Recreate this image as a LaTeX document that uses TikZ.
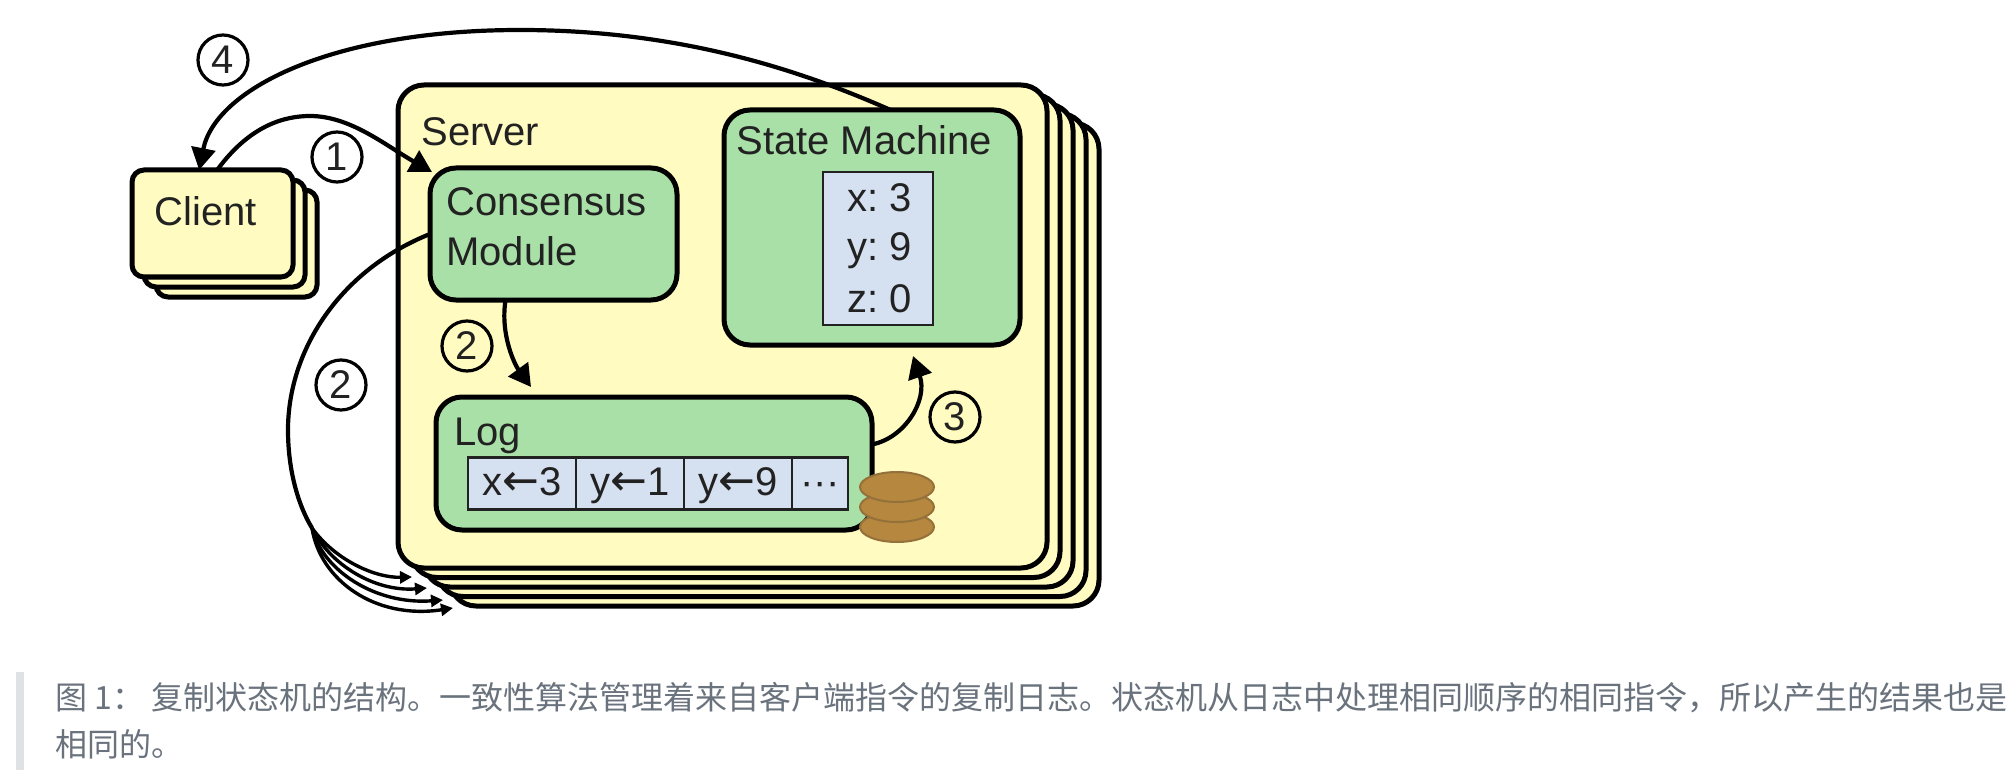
\documentclass[tikz,border=0pt]{standalone}
\usepackage{fontspec}
\setmainfont{Liberation Sans}
\newfontfamily\cjkfont{Noto Sans CJK SC}
\newfontfamily\arrowfont{DejaVu Sans}
\newcommand{\larr}{{\arrowfont\fontsize{22}{22}\selectfont ←}}
\usetikzlibrary{arrows.meta,shapes.geometric}
\definecolor{boxyellow}{HTML}{FFFBC1}
\definecolor{boxgreen}{HTML}{A9E0A7}
\definecolor{cellblue}{HTML}{D5E0F0}
\definecolor{diskbrown}{HTML}{B5873F}
\definecolor{diskedge}{HTML}{94713A}
\definecolor{captiongray}{HTML}{6A737D}
\definecolor{bargray}{HTML}{DFE2E5}
\definecolor{inkblack}{HTML}{222222}
\tikzset{
  box/.style={draw=black,line width=2.5pt,rounded corners=#1,inner sep=0pt,outer sep=0pt},
  box/.default=12pt,
  cell/.style={draw=inkblack,line width=1.3pt,fill=cellblue,inner sep=0pt,outer sep=0pt},
  lbl/.style={font=\fontsize{20}{22}\selectfont,text=inkblack,anchor=base west,inner sep=0pt},
  celltxt/.style={font=\fontsize{20}{22}\selectfont,text=inkblack,anchor=base,inner sep=0pt},
  num/.style={draw=black,circle,line width=1.6pt,minimum size=25pt,inner sep=0pt,font=\fontsize{20}{22}\selectfont,text=inkblack},
  flow/.style={draw=black,line width=2.1pt,-{Triangle[length=11pt,width=12pt]}},
  fine/.style={draw=black,line width=1.7pt,-{Triangle[length=6pt,width=6pt]}},
  disk/.style={ellipse,draw=diskedge,line width=1pt,fill=diskbrown,minimum width=37pt,minimum height=15pt,inner sep=0pt},
  caption/.style={font=\cjkfont\fontsize{16}{20}\selectfont,text=captiongray,anchor=base west,inner sep=0pt}
}
\begin{document}
\begin{tikzpicture}[x=0.5pt,y=-0.5pt]
\useasboundingbox[fill=white] (0,0) rectangle (2012,770);
% client stack
\foreach \i in {2,1}{
  \node[box=6pt,fill=boxyellow,minimum width=80.5pt,minimum height=53.5pt] (client\i) at (212.5+12*\i,223.5+10*\i) {};
}
\node[box=6pt,fill=boxyellow,minimum width=80.5pt,minimum height=53.5pt] (client) at (212.5,223.5) {};
\node[lbl] (clienttxt) at (154,225.5) {Client};
% server stack
\foreach \i in {4,3,2,1}{
  \node[box=13pt,fill=boxyellow,minimum width=324.5pt,minimum height=241.5pt] (server\i) at (722.5+13*\i,326.5+9.5*\i) {};
}
\node[box=13pt,fill=boxyellow,minimum width=324.5pt,minimum height=241.5pt] (server) at (722.5,326.5) {};
\node[lbl] (servertxt) at (421,145.5) {Server};
% consensus module
\node[box=13pt,fill=boxgreen,minimum width=123.5pt,minimum height=66pt] (cons) at (553.5,234) {};
\node[lbl] (constxt) at (446,215.5) {Consensus};
\node[lbl] (modtxt) at (446,265) {Module};
% state machine
\node[box=13pt,fill=boxgreen,minimum width=148pt,minimum height=117.5pt] (sm) at (872,227.5) {};
\node[lbl] (smtxt) at (736,154.5) {State Machine};
\node[cell,minimum width=55pt,minimum height=76.5pt] (state) at (878,248.5) {};
\node[lbl] (sx) at (847,212) {x:\kern-2pt{} 3};
\node[lbl] (sy) at (847,261) {y:\kern-2pt{} 9};
\node[lbl] (sz) at (847,312) {z:\kern-2pt{} 0};
% log
\node[box=13pt,fill=boxgreen,minimum width=218pt,minimum height=66.5pt] (log) at (654,463.5) {};
\node[lbl] (logtxt) at (454,445) {Log};
\node[cell,minimum width=54pt,minimum height=26pt] (c1) at (522,483.5) {};
\node[cell,minimum width=54pt,minimum height=26pt] (c2) at (630,483.5) {};
\node[cell,minimum width=54pt,minimum height=26pt] (c3) at (738,483.5) {};
\node[cell,minimum width=28pt,minimum height=26pt] (c4) at (820,483.5) {};
\node[celltxt] (t1) at (522,495) {x\larr3};
\node[celltxt] (t2) at (630,495) {y\larr1};
\node[celltxt] (t3) at (738,495) {y\larr9};
\node[celltxt] (t4) at (820,495) {···};
% disks
\node[disk] (d3) at (897,527) {};
\node[disk] (d2) at (897,507) {};
\node[disk] (d1) at (897,487) {};
% free ends
\coordinate (tipone) at (432,172);
\coordinate (tiptwo) at (531,387);
\coordinate (tipthree) at (913,356);
\coordinate (split) at (312,528);
\coordinate (ta) at (412,577);
\coordinate (tb) at (427,588);
\coordinate (tc) at (443,600);
\coordinate (td) at (453,608);
% connectors
\draw[flow] (sm.81.7) .. controls (800,70) and (680,30) .. (520,30) .. controls (330,30) and (215,90) .. (client.104);
\draw[flow] (client.85) .. controls (250,125) and (285,116) .. (310,116) .. controls (350,116) and (385,145) .. (tipone);
\draw[flow] (cons.234.3) .. controls (500,335) and (515,365) .. (tiptwo);
\draw[flow] (log.5.1) .. controls (905,438) and (928,400) .. (tipthree);
\draw[black,line width=2.1pt] (cons.west) .. controls (340,270) and (288,350) .. (288,430) .. controls (288,470) and (298,505) .. (split);
\draw[fine] (split) .. controls (335,560) and (375,578) .. (ta);
\draw[fine] (split) .. controls (330,565) and (375,592) .. (tb);
\draw[fine] (split) .. controls (322,570) and (375,605) .. (tc);
\draw[fine] (split) .. controls (320,580) and (375,620) .. (td);
% numbers
\node[num] (n4) at (223,60) {4};
\node[num] (n1) at (337,157) {1};
\node[num] (n2a) at (467,346) {2};
\node[num] (n2b) at (341,385) {2};
\node[num] (n3) at (955,417) {3};
% caption
\fill[bargray] (16,672) rectangle (24,770);
\node[caption] (cap1) at (55,709) {图 1： 复制状态机的结构。一致性算法管理着来自客户端指令的复制日志。状态机从日志中处理相同顺序的相同指令，所以产生的结果也是};
\node[caption] (cap2) at (55,756) {相同的。};
\end{tikzpicture}
\end{document}
